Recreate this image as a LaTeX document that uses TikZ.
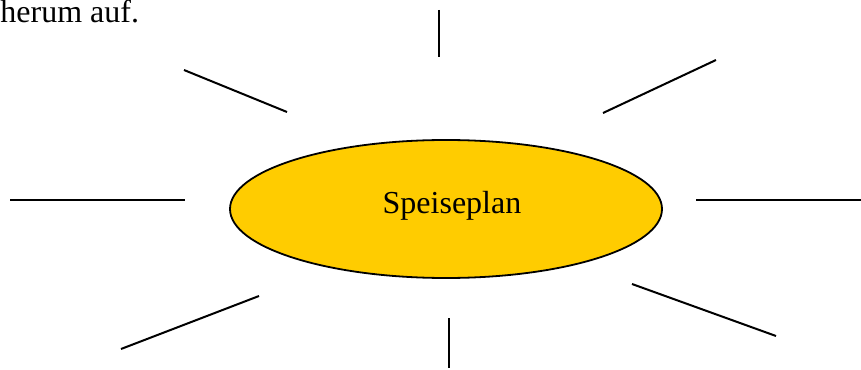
\documentclass[tikz,border=0pt]{standalone}
\usepackage{fontspec}
\setmainfont{Liberation Serif}
\usetikzlibrary{shapes.geometric}
\definecolor{sunfill}{RGB}{255,204,0}
\tikzset{ray/.style={draw=black,line width=1pt},
 sun/.style={ellipse,draw=black,line width=.9pt,fill=sunfill,inner sep=0pt,minimum width=216pt,minimum height=69pt},
 label/.style={font=\fontsize{16}{19}\selectfont,inner sep=0pt},
 every picture/.style={line join=round,line cap=butt}}
\begin{document}
\begin{tikzpicture}[x=0.5pt,y=-0.5pt]
\useasboundingbox (0,0) rectangle (861,369);
\node[label,anchor=base west] (intro) at (0,23) {herum auf.};
\node[sun] (plan) at (446,209) {};
\node[label,anchor=base] (plantext) at (452,213) {Speiseplan};
\draw[ray] (439,10) -- (439,57);
\draw[ray] (184,70) -- (287,112);
\draw[ray] (716,60) -- (603,113);
\draw[ray] (10,200) -- (185,200);
\draw[ray] (696,200) -- (861,200);
\draw[ray] (259,296) -- (121,349);
\draw[ray] (632,284) -- (776,336);
\draw[ray] (449,318) -- (449,368);
\end{tikzpicture}
\end{document}
